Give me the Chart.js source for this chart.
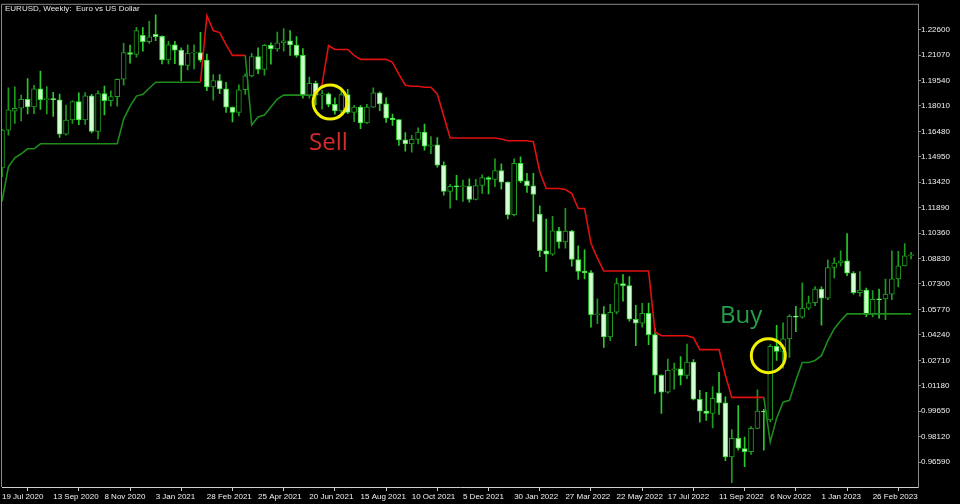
<!DOCTYPE html>
<html>
<head>
<meta charset="utf-8">
<script src="https://cdn.jsdelivr.net/npm/chart.js@4.4.1/dist/chart.umd.min.js"></script>
<style>
  html, body { margin: 0; background: #000; }
  #wrap { position: relative; width: 960px; height: 504px; overflow: hidden; }
  canvas { display: block; }
  .title { position: absolute; left: 5px; top: 4px; color: #e8e8e8; white-space: pre;
           font: 8px 'Liberation Sans', sans-serif; line-height: 10px; }
  .note { position: absolute; font: 24px 'Open Sans', sans-serif; line-height: 24px; white-space: pre; }
</style>
</head>
<body>
<div id="wrap">
  <canvas id="chart" width="960" height="504"></canvas>
  <div class="title">EURUSD, Weekly:  Euro vs US Dollar</div>
  <div class="note" style="left:309px;top:129px;color:#d62b2b">Sell</div>
  <div class="note" style="left:720px;top:302px;color:#25a04a">Buy</div>
</div>
<script>
// EURUSD weekly, 19 Jul 2020 .. 9 Apr 2023 (143 bars)
const tickIdx    = [0, 8, 16, 24, 32, 40, 48, 56, 64, 72, 80, 88, 96, 104, 112, 120, 128, 136];
const tickLabels = ['19 Jul 2020', '13 Sep 2020', '8 Nov 2020', '3 Jan 2021', '28 Feb 2021', '25 Apr 2021',
  '20 Jun 2021', '15 Aug 2021', '10 Oct 2021', '5 Dec 2021', '30 Jan 2022', '27 Mar 2022', '22 May 2022',
  '17 Jul 2022', '11 Sep 2022', '6 Nov 2022', '1 Jan 2023', '26 Feb 2023'];
const priceTicks = [1.22600, 1.21070, 1.19540, 1.18010, 1.16480, 1.14950, 1.13420, 1.11890, 1.10360,
  1.08830, 1.07300, 1.05770, 1.04240, 1.02710, 1.01180, 0.99650, 0.98120, 0.96590];

const open = [
  1.1428,1.1655,1.1770,1.1787,1.1841,1.1795,1.1903,1.1838, 1.1845,1.1838,1.1631,1.1716,1.1827,1.1716,1.1861,1.1647,
  1.1875,1.1833,1.1857,1.1961,1.2122,1.2110,1.2225,1.2188, 1.2232,1.2220,1.2078,1.2169,1.2136,1.2045,1.2118,1.2121,
  1.2076,1.1915,1.1953,1.1903,1.1793,1.1762,1.1898,1.1982, 1.2098,1.2020,1.2165,1.2143,1.2180,1.2193,1.2167,1.2105,
  1.1863,1.1936,1.1866,1.1874,1.1810,1.1771,1.1869,1.1762, 1.1794,1.1699,1.1794,1.1880,1.1813,1.1727,1.1718,1.1597,
  1.1573,1.1600,1.1644,1.1559,1.1567,1.1444,1.1287,1.1318, 1.1315,1.1318,1.1239,1.1322,1.1370,1.1359,1.1412,1.1343,
  1.1147,1.1456,1.1350,1.1321,1.1150,1.0930,1.0910,1.1050, 1.0983,1.1048,1.0877,1.0806,1.0798,1.0545,1.0550,1.0411,
  1.0560,1.0733,1.0720,1.0518,1.0494,1.0554,1.0425,1.0181, 1.0080,1.0211,1.0220,1.0180,1.0260,1.0037,0.9965,0.9952,
  1.0075,1.0015,0.9690,0.9801,0.9740,0.9722,0.9862,0.9965, 0.9912,1.0355,1.0324,1.0400,1.0535,1.0531,1.0585,1.0617,
  1.0700,1.0644,1.0829,1.0856,1.0869,1.0795,1.0678,1.0694, 1.0547,1.0640,1.0640,1.0669,1.0761,1.0839,1.0900
];
const high = [
  1.1660,1.1909,1.1916,1.1866,1.1966,1.1925,1.2011,1.1917, 1.1882,1.1872,1.1806,1.1831,1.1880,1.1881,1.1870,1.1891,
  1.1920,1.1892,1.1964,1.2177,1.2167,1.2273,1.2272,1.2310, 1.2349,1.2222,1.2190,1.2189,1.2150,1.2169,1.2169,1.2243,
  1.2113,1.1990,1.1989,1.1942,1.1795,1.1927,1.1994,1.2117, 1.2150,1.2172,1.2181,1.2245,1.2266,1.2254,1.2218,1.2145,
  1.1975,1.1950,1.1895,1.1880,1.1850,1.1909,1.1900,1.1805, 1.1803,1.1810,1.1909,1.1885,1.1849,1.1752,1.1719,1.1641,
  1.1624,1.1669,1.1692,1.1616,1.1610,1.1464,1.1330,1.1383, 1.1355,1.1362,1.1360,1.1386,1.1375,1.1482,1.1452,1.1344,
  1.1483,1.1495,1.1395,1.1395,1.1200,1.1121,1.1137,1.1070, 1.1185,1.1053,1.0960,1.0936,1.0811,1.0641,1.0594,1.0607,
  1.0764,1.0787,1.0774,1.0601,1.0613,1.0615,1.0463,1.0185, 1.0278,1.0255,1.0293,1.0368,1.0275,1.0090,1.0079,1.0113,
  1.0198,1.0051,0.9854,0.9999,0.9809,0.9873,1.0094,0.9976, 1.0365,1.0481,1.0497,1.0545,1.0595,1.0737,1.0657,1.0714,
  1.0713,1.0875,1.0887,1.0930,1.1033,1.0805,1.0805,1.0705, 1.0691,1.0700,1.0760,1.0930,1.0926,1.0973,1.0920
];
const low = [
  1.1375,1.1625,1.1696,1.1711,1.1753,1.1754,1.1780,1.1753, 1.1737,1.1612,1.1625,1.1695,1.1688,1.1690,1.1639,1.1603,
  1.1746,1.1800,1.1800,1.1925,1.2058,1.2094,1.2130,1.2176, 1.2193,1.2054,1.2053,1.2055,1.1952,1.2018,1.2023,1.2066,
  1.1893,1.1836,1.1874,1.1762,1.1704,1.1740,1.1870,1.1975, 1.1995,1.1986,1.2052,1.2130,1.2130,1.2104,1.2094,1.1847,
  1.1847,1.1807,1.1781,1.1795,1.1751,1.1760,1.1754,1.1706, 1.1664,1.1694,1.1792,1.1773,1.1701,1.1684,1.1563,1.1529,
  1.1523,1.1572,1.1535,1.1513,1.1432,1.1264,1.1186,1.1235, 1.1227,1.1222,1.1235,1.1274,1.1272,1.1315,1.1300,1.1121,
  1.1140,1.1340,1.1280,1.1106,1.0894,1.0806,1.0902,1.0945, 1.0945,1.0837,1.0757,1.0760,1.0470,1.0492,1.0349,1.0389,
  1.0550,1.0627,1.0507,1.0359,1.0470,1.0365,1.0072,0.9952, 1.0073,1.0097,1.0123,1.0160,1.0033,0.9899,0.9910,0.9864,
  0.9945,0.9668,0.9535,0.9730,0.9632,0.9705,0.9858,0.9730, 0.9900,1.0270,1.0223,1.0289,1.0443,1.0525,1.0575,1.0600,
  1.0483,1.0635,1.0766,1.0838,1.0780,1.0669,1.0656,1.0533, 1.0532,1.0524,1.0516,1.0635,1.0713,1.0838,1.0880
];
const close = [
  1.1655,1.1778,1.1787,1.1841,1.1795,1.1903,1.1838,1.1845, 1.1838,1.1631,1.1716,1.1827,1.1716,1.1861,1.1647,1.1875,
  1.1833,1.1857,1.1961,1.2122,1.2110,1.2254,1.2188,1.2216, 1.2218,1.2078,1.2169,1.2136,1.2045,1.2118,1.2121,1.2076,
  1.1915,1.1953,1.1903,1.1793,1.1762,1.1898,1.1982,1.2098, 1.2020,1.2165,1.2143,1.2180,1.2193,1.2167,1.2105,1.1863,
  1.1936,1.1866,1.1874,1.1810,1.1771,1.1869,1.1762,1.1794, 1.1699,1.1794,1.1880,1.1813,1.1727,1.1718,1.1597,1.1573,
  1.1600,1.1644,1.1559,1.1567,1.1444,1.1287,1.1317,1.1315, 1.1318,1.1239,1.1322,1.1370,1.1359,1.1412,1.1343,1.1147,
  1.1456,1.1349,1.1321,1.1268,1.0930,1.0910,1.1050,1.0983, 1.1048,1.0877,1.0806,1.0798,1.0545,1.0550,1.0411,1.0560,
  1.0733,1.0720,1.0518,1.0494,1.0554,1.0425,1.0181,1.0080, 1.0211,1.0220,1.0180,1.0260,1.0037,0.9965,0.9952,1.0043,
  1.0015,0.9690,0.9801,0.9742,0.9722,0.9862,0.9965,0.9960, 1.0355,1.0324,1.0400,1.0535,1.0531,1.0585,1.0617,1.0700,
  1.0644,1.0829,1.0856,1.0869,1.0795,1.0678,1.0694,1.0547, 1.0637,1.0635,1.0669,1.0761,1.0839,1.0900,1.0901
];

// trailing stop line and where its direction flips (1 = buy / below price, -1 = sell / above)
const stop = [
  1.1226,1.1435,1.1489,1.1513,1.1543,1.1543,1.1573,1.1573, 1.1573,1.1573,1.1573,1.1573,1.1573,1.1573,1.1573,1.1573,
  1.1573,1.1573,1.1573,1.1722,1.1800,1.1860,1.1871,1.1907, 1.1943,1.1943,1.1943,1.1943,1.1943,1.1943,1.1943,1.1943,
  1.2344,1.2254,1.2242,1.2170,1.2105,1.2105,1.2105,1.1686, 1.1734,1.1746,1.1794,1.1842,1.1866,1.1866,1.1866,1.1866,
  1.1866,1.1866,1.1931,1.2164,1.2140,1.2140,1.2140,1.2105, 1.2081,1.2081,1.2081,1.2081,1.2081,1.2063,1.1991,1.1925,
  1.1919,1.1919,1.1913,1.1913,1.1871,1.1740,1.1608,1.1608, 1.1608,1.1608,1.1608,1.1608,1.1608,1.1608,1.1602,1.1591,
  1.1591,1.1591,1.1591,1.1585,1.1405,1.1304,1.1304,1.1304, 1.1298,1.1274,1.1184,1.1184,1.0975,1.0885,1.0808,1.0808,
  1.0808,1.0808,1.0808,1.0808,1.0808,1.0808,1.0443,1.0419, 1.0419,1.0419,1.0419,1.0419,1.0407,1.0335,1.0335,1.0335,
  1.0335,1.0180,1.0048,1.0048,1.0048,1.0048,1.0048,1.0048, 0.9779,0.9923,1.0019,1.0030,1.0150,1.0258,1.0258,1.0270,
  1.0299,1.0389,1.0461,1.0509,1.0550,1.0550,1.0550,1.0550, 1.0550,1.0550,1.0550,1.0550,1.0550,1.0550,1.0550
];
const trendStart = [0, 32, 39, 50, 120];
const trendDir   = [1, -1, 1, -1, 1];

const BULL = '#1f9c1f', BEAR_EDGE = '#34e034', BEAR_FILL = '#d0ffd0', BEAR_WICK = '#2cc82c';
const STOP_UP = '#1c8c1c', STOP_DN = '#e01010';

function dirAt(i) {
  let d = trendDir[0];
  trendStart.forEach((s, k) => { if (i >= s) d = trendDir[k]; });
  return d;
}

const isUp = open.map((o, i) => close[i] > o);
const bodies = open.map((o, i) => ({ x: i, y: [Math.min(o, close[i]), Math.max(o, close[i])] }));
const wicks  = open.map((o, i) => ({ x: i, y: [low[i], high[i]] }));
const stopPts = stop.map((v, i) => ({ x: i, y: v }));

// yellow marker circles: [bar index, price]
const marks = [[51.25, 1.1824], [119.7, 1.0299]];

const frame = {
  id: 'frame',
  beforeDraw(c) {
    const { ctx } = c;
    ctx.save(); ctx.fillStyle = '#000'; ctx.fillRect(0, 0, c.width, c.height); ctx.restore();
  },
  afterDatasetsDraw(c) {
    const { ctx, chartArea: a, scales: { x, y } } = c;
    ctx.save();
    ctx.strokeStyle = '#f0f000';
    ctx.lineWidth = 3;
    marks.forEach(([i, v]) => {
      ctx.beginPath();
      ctx.arc(x.getPixelForValue(i), y.getPixelForValue(v), 17, 0, Math.PI * 2);
      ctx.stroke();
    });
    ctx.strokeStyle = '#8a8a8a';
    ctx.lineWidth = 1;
    ctx.beginPath();
    ctx.moveTo(a.left - 0.5, a.bottom); ctx.lineTo(a.left - 0.5, a.top - 0.5); ctx.lineTo(a.right + 0.5, a.top - 0.5);
    ctx.stroke();
    ctx.restore();
  }
};

const tickFont = { family: "'Liberation Sans', sans-serif", size: 8 };

new Chart(document.getElementById('chart'), {
  type: 'bar',
  data: {
    datasets: [
      {
        type: 'line', data: stopPts, borderWidth: 1.6, pointRadius: 0, tension: 0,
        borderColor: STOP_UP,
        segment: { borderColor: s => dirAt(s.p1DataIndex) > 0 ? STOP_UP : STOP_DN },
      },
      {
        data: bodies, barThickness: 5, minBarLength: 1, borderWidth: 1, borderSkipped: false,
        backgroundColor: isUp.map(u => u ? '#000' : BEAR_FILL),
        borderColor: isUp.map(u => u ? BULL : BEAR_EDGE),
      },
      {
        data: wicks, barThickness: 1,
        backgroundColor: isUp.map(u => u ? BULL : BEAR_WICK),
      },
    ],
  },
  options: {
    responsive: false,
    animation: false,
    devicePixelRatio: 1,
    datasets: { bar: { grouped: false } },
    layout: { padding: { left: 2, top: 2 } },
    plugins: { legend: { display: false }, tooltip: { enabled: false } },
    scales: {
      x: {
        type: 'linear', min: 0, max: 143.08, offset: false,
        afterBuildTicks: s => { s.ticks = tickIdx.map(v => ({ value: v })); },
        afterFit: s => { s.height = 17; },
        ticks: {
          autoSkip: false, maxRotation: 0, align: 'start', padding: 1, color: '#f0f0f0', font: tickFont,
          callback: v => tickLabels[tickIdx.indexOf(v)],
        },
        grid: { drawOnChartArea: false, tickLength: 4, color: '#d0d0d0' },
        border: { color: '#d0d0d0' },
      },
      y: {
        position: 'right', min: 0.9509, max: 1.2409,
        afterBuildTicks: s => { s.ticks = priceTicks.map(v => ({ value: v })); },
        afterFit: s => { s.width = 42; },
        ticks: { padding: 0, color: '#f0f0f0', font: tickFont, callback: v => v.toFixed(5) },
        grid: { drawOnChartArea: false, tickLength: 3, color: '#8a8a8a' },
        border: { color: '#8a8a8a' },
      },
    },
  },
  plugins: [frame],
});
</script>
</body>
</html>
